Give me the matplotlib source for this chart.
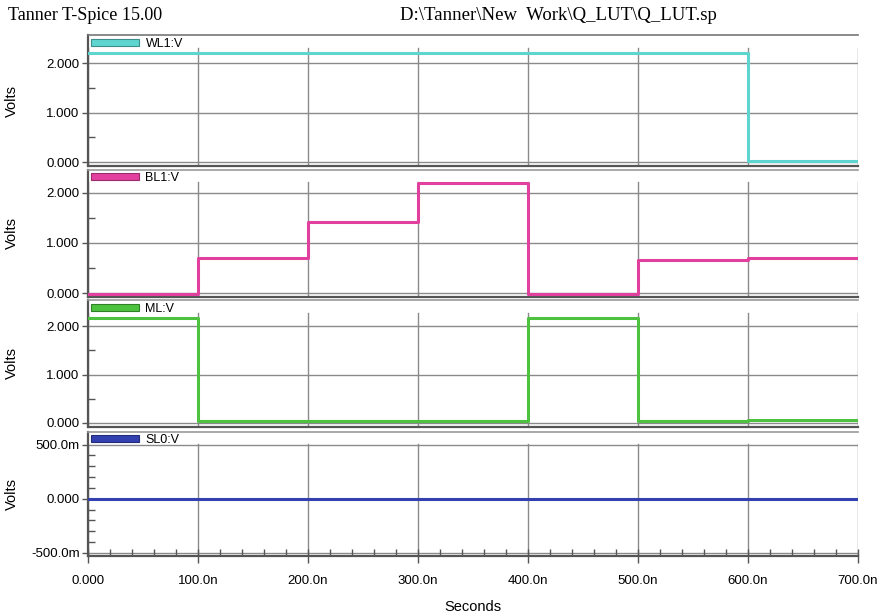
import numpy as np
import matplotlib
matplotlib.use('Agg')
import matplotlib.pyplot as plt
from matplotlib.patches import Patch

# time edges in ns, one value per 100 ns segment
t_edges = [0, 100, 200, 300, 400, 500, 600, 700]
wl1 = [2.2, 2.2, 2.2, 2.2, 2.2, 2.2, 0.03]
bl1 = [-0.02, 0.70, 1.42, 2.20, -0.01, 0.66, 0.70]
ml = [2.17, 0.04, 0.04, 0.04, 2.17, 0.04, 0.07]
sl0 = [0, 0, 0, 0, 0, 0, 0]

x_ticks = [0, 100, 200, 300, 400, 500, 600, 700]
x_labels = ['0.000', '100.0n', '200.0n', '300.0n', '400.0n', '500.0n', '600.0n', '700.0n']
v_ticks = [0, 1, 2]
v_labels = ['0.000', '1.000', '2.000']
sl_ticks = [-0.5, 0, 0.5]
sl_labels = ['-500.0m', '0.000', '500.0m']

signals = [
    ('WL1:V', wl1, '#5ed6cf', '#3a8f8a', (-0.08, 2.57)),
    ('BL1:V', bl1, '#e2409f', '#9a2a6a', (-0.08, 2.46)),
    ('ML:V', ml, '#4cc23f', '#2f7f28', (-0.08, 2.54)),
    ('SL0:V', sl0, '#3340b0', '#222c7a', (-0.53, 0.62)),
]

# panel boxes in figure fraction: (bottom, top)
boxes = [(0.730, 0.943), (0.517, 0.724), (0.306, 0.512), (0.096, 0.298)]
left, right = 0.1, 0.975

plt.rcParams['font.family'] = ['Liberation Sans', 'DejaVu Sans']
fig = plt.figure(figsize=(8.8, 6.15), dpi=100)

fig.text(0.009, 0.975, 'Tanner T-Spice 15.00', family='Liberation Serif', fontsize=13,
         ha='left', va='center')
fig.text(0.455, 0.975, 'D:\\Tanner\\New  Work\\Q_LUT\\Q_LUT.sp', family='Liberation Serif',
         fontsize=13.5, ha='left', va='center')

axes = []
for i, (name, vals, col, edge, ylim) in enumerate(signals):
    b, t = boxes[i]
    ax = fig.add_axes([left, b, right - left, t - b])
    axes.append(ax)
    ax.set_xlim(0, 700)
    ax.set_ylim(*ylim)

    for xv in x_ticks:
        ax.axvline(xv, ymin=0, ymax=0.9, color='#8a8a8a', lw=1, zorder=1)

    if name == 'SL0:V':
        ax.set_yticks(sl_ticks)
        ax.set_yticklabels(sl_labels)
        ax.set_yticks(np.arange(-0.5, 0.51, 0.1), minor=True)
    else:
        ax.set_yticks(v_ticks)
        ax.set_yticklabels(v_labels)
        ax.set_yticks([0.5, 1.5], minor=True)
    for yv in ax.get_yticks():
        ax.axhline(yv, color='#8a8a8a', lw=1, zorder=1)

    ax.step(t_edges, vals + [vals[-1]], where='post', color=col, lw=2.2, zorder=3)

    ax.set_ylabel('Volts', fontsize=10.5)
    ax.tick_params(axis='y', which='major', direction='out', length=4, width=1,
                   color='#555555', labelsize=9.5, pad=2)
    ax.tick_params(axis='y', which='minor', direction='in', length=5, width=1, color='#555555')

    ax.set_xticks(x_ticks)
    if i == 3:
        ax.set_xticklabels(x_labels)
        ax.set_xticks(np.arange(0, 701, 20), minor=True)
        ax.tick_params(axis='x', which='major', direction='inout', length=10, width=1,
                       color='#555555', labelsize=9.5, pad=9)
        ax.tick_params(axis='x', which='minor', direction='in', length=5, width=1, color='#555555')
        ax.set_xlabel('Seconds', fontsize=10.5, labelpad=9)
    else:
        ax.tick_params(axis='x', which='both', length=0, labelbottom=False)

    for s in ['left', 'bottom']:
        ax.spines[s].set_color('#555555')
        ax.spines[s].set_linewidth(1.6)
    ax.spines['top'].set_color('#777777' if i == 0 else '#999999')
    ax.spines['top'].set_linewidth(1.2)
    ax.spines['right'].set_visible(False)

    handle = Patch(facecolor=col, edgecolor=edge, linewidth=0.8)
    ax.legend([handle], [name], loc='upper left', frameon=False, fontsize=9,
              handlelength=3.9, handleheight=0.5, handletextpad=0.5,
              borderaxespad=0.1, borderpad=0.1)

for ax in axes:
    ax.yaxis.set_label_coords(-0.09, 0.5)

fig.savefig('out.png', dpi=100)
